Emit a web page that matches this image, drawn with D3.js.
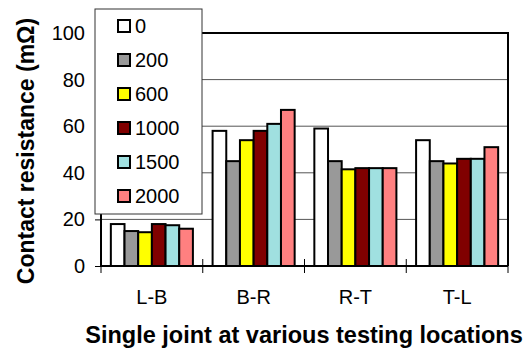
<!DOCTYPE html>
<html>
<head>
<meta charset="utf-8">
<script src="https://cdn.jsdelivr.net/npm/d3@7"></script>
<style>
  body { margin: 0; background: #fff; }
  text { font-family: "Liberation Sans", Arial, sans-serif; }
</style>
</head>
<body>
<svg id="chart"></svg>
<script>
// Data
const locations = ["L-B", "B-R", "R-T", "T-L"];
const seriesNames = ["0", "200", "600", "1000", "1500", "2000"];
const seriesColors = ["#ffffff", "#999999", "#ffff00", "#800000", "#a0e0e0", "#ff8080"];
const values = {
  "0":    [18, 58, 59, 54],
  "200":  [15, 45, 45, 45],
  "600":  [14.5, 54, 41.5, 44],
  "1000": [18, 58, 42, 46],
  "1500": [17.5, 61, 42, 46],
  "2000": [16, 67, 42, 51]
};
const yTicks = [0, 20, 40, 60, 80, 100];

const W = 526, H = 349;
const margin = { top: 33, right: 18, bottom: 83, left: 101 };
const width = W - margin.left - margin.right;
const height = H - margin.top - margin.bottom;

const svg = d3.select("#chart").attr("width", W).attr("height", H);
const g = svg.append("g").attr("transform", `translate(${margin.left},${margin.top})`);

const x0 = d3.scaleBand().domain(locations).range([0, width]).padding(0);
const x1 = d3.scaleBand().domain(seriesNames).range([0, x0.bandwidth()]).paddingOuter(0.72).paddingInner(0);
const y = d3.scaleLinear().domain([0, 100]).range([height, 0]);

// Gridlines
g.append("g")
  .selectAll("line")
  .data(yTicks.filter(d => d > 0 && d < 100))
  .enter().append("line")
  .attr("x1", 0).attr("x2", width)
  .attr("y1", d => y(d)).attr("y2", d => y(d))
  .attr("stroke", "#555").attr("stroke-width", 1);

// Top and right border
g.append("path")
  .attr("d", `M0,${y(100)}H${width}V${height}`)
  .attr("fill", "none").attr("stroke", "#000").attr("stroke-width", 2);

// Bars
locations.forEach((loc, i) => {
  g.append("g")
    .attr("transform", `translate(${x0(loc)},0)`)
    .selectAll("rect")
    .data(seriesNames.map((s, j) => ({ s, v: values[s][i], c: seriesColors[j] })))
    .enter().append("rect")
    .attr("x", d => x1(d.s))
    .attr("y", d => y(d.v))
    .attr("width", x1.bandwidth())
    .attr("height", d => height - y(d.v))
    .attr("fill", d => d.c)
    .attr("stroke", "#000")
    .attr("stroke-width", 2);
});

// Y axis
const yAxis = g.append("g")
  .call(d3.axisLeft(y).tickValues(yTicks).tickSize(6).tickPadding(10));
yAxis.select(".domain").attr("stroke-width", 2).attr("d", `M0,${y(0)}V${y(100)}`);
yAxis.selectAll("text").style("font-size", "20px").attr("fill", "#000");

// X axis with ticks between categories
const xAxis = g.append("g").attr("transform", `translate(0,${height})`);
xAxis.append("line").attr("x1", 0).attr("x2", width).attr("stroke", "#000").attr("stroke-width", 2);
xAxis.selectAll(".tk")
  .data(d3.range(locations.length + 1))
  .enter().append("line")
  .attr("x1", d => d * x0.bandwidth()).attr("x2", d => d * x0.bandwidth())
  .attr("y1", -7).attr("y2", 7)
  .attr("stroke", "#000").attr("stroke-width", 1);
xAxis.selectAll(".lbl")
  .data(locations)
  .enter().append("text")
  .attr("x", d => x0(d) + x0.bandwidth() / 2)
  .attr("y", 38)
  .attr("text-anchor", "middle")
  .style("font-size", "20px")
  .text(d => d);

// Axis titles
svg.append("text")
  .attr("x", 304).attr("y", 343)
  .attr("text-anchor", "middle")
  .style("font-size", "23.5px").style("font-weight", "bold")
  .text("Single joint at various testing locations");

svg.append("text")
  .attr("transform", "translate(34,151) rotate(-90)")
  .attr("text-anchor", "middle")
  .style("font-size", "23px").style("font-weight", "bold")
  .text("Contact resistance (mΩ)");

// Legend
const legend = svg.append("g").attr("transform", "translate(95,9)");
legend.append("rect")
  .attr("width", 107).attr("height", 205)
  .attr("fill", "#fff").attr("stroke", "#333").attr("stroke-width", 1);
const item = legend.selectAll(".item")
  .data(seriesNames)
  .enter().append("g")
  .attr("transform", (d, i) => `translate(0,${17 + i * 34})`);
item.append("rect")
  .attr("x", 23).attr("y", -6).attr("width", 12).attr("height", 12)
  .attr("fill", (d, i) => seriesColors[i])
  .attr("stroke", "#000").attr("stroke-width", 2);
item.append("text")
  .attr("x", 40).attr("y", 7)
  .style("font-size", "20px")
  .text(d => d);
</script>
</body>
</html>
